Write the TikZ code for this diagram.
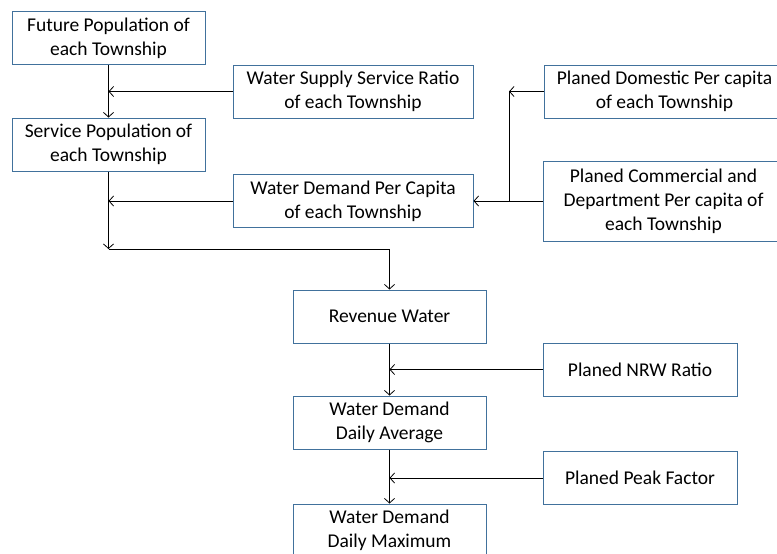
\documentclass[tikz,border=0pt]{standalone}
\usepackage{fontspec}
\setmainfont{Carlito}
\usetikzlibrary{arrows.meta,positioning}
\definecolor{boxblue}{RGB}{65,113,156}

\begin{document}
\begin{tikzpicture}[>={Straight Barb[length=4.5pt,width=10pt]},x=1pt,y=-1pt,
  main node/.style={draw=boxblue,line width=1pt,align=center,inner sep=2pt,
    font=\fontsize{19.5}{24}\selectfont,minimum height=53pt},
  left node/.style={main node,minimum width=193pt},
  mid node/.style={main node,minimum width=240pt},
  right node/.style={main node,minimum width=241pt},
  flow/.style={->,line width=0.8pt}]
  \path[use as bounding box,clip] (0,0) rectangle (777,554);
  % left column
  \node[left node]   (fut) at (108.5,38)    {Future Population of\\each Township};
  \node[left node]   (svc) at (108.5,144.5) {Service Population of\\each Township};
  % middle column
  \node[mid node]    (ssr) at (353,91.5)    {Water Supply Service Ratio\\of each Township};
  \node[mid node]    (wdc) at (353,201)     {Water Demand Per Capita\\of each Township};
  \node[left node]   (rev) at (389.5,316.5) {Revenue Water};
  \node[left node]   (avg) at (389.5,422.5) {Water Demand\\Daily Average};
  \node[left node]   (max) at (389.5,530.5) {Water Demand\\Daily Maximum};
  % right column
  \node[right node]  (dom) at (664.5,91.5)  {Planed Domestic Per capita\\of each Township};
  \node[right node,minimum height=80pt]
                     (com) at (663.5,201)   {Planed Commercial and\\Department Per capita of\\each Township};
  \node[main node,minimum width=194pt] (nrw)  at (640,369.5) {Planed NRW Ratio};
  \node[main node,minimum width=194pt] (peak) at (640,478)   {Planed Peak Factor};
  \coordinate (jn) at (108.5,249);
  \coordinate (br) at (509,201);
  \draw[flow] (fut) -- (svc);
  \draw[flow] (ssr.west) -- (ssr.west -| fut);
  \draw[flow] (wdc.west) -- (wdc.west -| svc);
  \draw[flow] (svc) -- (jn);
  \draw[flow] (jn) -| (rev.north);
  \draw[flow] (com.west) -- (wdc.east);
  \draw[flow] (dom.west) -- (dom.west -| br);
  \draw[line width=0.8pt] (br) -- (dom.west -| br);
  \draw[flow] (rev) -- (avg);
  \draw[flow] (avg) -- (max);
  \draw[flow] (nrw.west) -- (nrw.west -| rev);
  \draw[flow] (peak.west) -- (peak.west -| avg);
\end{tikzpicture}
\end{document}
